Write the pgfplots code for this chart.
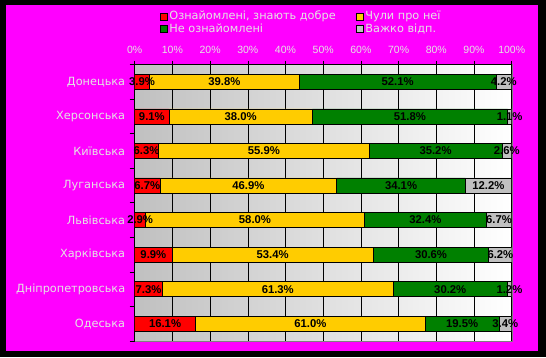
\documentclass[border=0pt]{standalone}
\usepackage{pgfplots}
\pgfplotsset{compat=1.18}
\usepackage{fontspec}
\setmainfont{Liberation Sans}
\newfontfamily\djv{DejaVu Sans}
\definecolor{mag}{RGB}{255,0,255}
\definecolor{cred}{RGB}{255,0,0}
\definecolor{cyel}{RGB}{255,204,0}
\definecolor{cgrn}{RGB}{0,128,0}
\definecolor{cgry}{RGB}{192,192,192}
\definecolor{txt}{RGB}{228,228,228}
\pgfplotstableread{
x y lab
1.95 0 3.9\%
23.8 0 39.8\%
69.75 0 52.1\%
97.9 0 4.2\%
4.55 1 9.1\%
28.1 1 38.0\%
73.0 1 51.8\%
99.45 1 1.1\%
3.15 2 6.3\%
34.25 2 55.9\%
79.8 2 35.2\%
98.7 2 2.6\%
3.35 3 6.7\%
30.15 3 46.9\%
70.65 3 34.1\%
93.8 3 12.2\%
1.45 4 2.9\%
31.9 4 58.0\%
77.1 4 32.4\%
96.65 4 6.7\%
4.95 5 9.9\%
36.6 5 53.4\%
78.6 5 30.6\%
97.0 5 6.2\%
3.65 6 7.3\%
37.95 6 61.3\%
83.7 6 30.2\%
99.4 6 1.2\%
8.05 7 16.1\%
46.6 7 61.0\%
86.85 7 19.5\%
98.3 7 3.4\%
}\labtable
\begin{document}
\begin{tikzpicture}[x=1pt,y=1pt]
\fill[black] (0,0) rectangle (546,357);
\fill[mag] (6,6) rectangle (538,352);
\begin{axis}[
  at={(134.7pt,16pt)}, anchor=south west,
  width=377pt, height=276.5pt, scale only axis,
  xbar stacked, bar width=15pt,
  xmin=0, xmax=100, ymin=-0.5, ymax=7.5, y dir=reverse,
  axis background/.style={left color=cgry, right color=white, draw=gray},
  axis x line*=top, axis y line*=left,
  axis line style={black, line width=0.6pt},
  tick align=outside,
  xtick={0,10,...,100},
  xticklabels={0\%,10\%,20\%,30\%,40\%,50\%,60\%,70\%,80\%,90\%,100\%},
  xticklabel style={font=\fontsize{10.5}{12}\selectfont, text=txt, yshift=3pt},
  major tick length=4pt,
  xmajorgrids, major x grid style={black, line width=0.6pt},
  major x tick style={black, line width=0.6pt},
  ytick={0,...,7},
  yticklabels={Донецька,Херсонська,Київська,Луганська,Львівська,Харківська,Дніпропетровська,Одеська},
  yticklabel style={font=\djv\fontsize{11.3}{13}\selectfont, text=txt, xshift=-2pt},
  major y tick style={draw=none},
  minor ytick={-0.5,0.5,...,7.5},
  minor tick length=5pt,
  minor y tick style={black, line width=0.6pt},
  legend columns=2,
  legend style={at={(0.058,1.208)}, anchor=north west, draw=none, fill=none,
    font=\djv\fontsize{11.3}{12}\selectfont, text=txt,
    /tikz/every even column/.append style={column sep=18pt}, row sep=-2pt},
  legend image code/.code={\draw[#1, draw=black, line width=0.6pt] (0pt,-3.5pt) rectangle (7pt,3.5pt);},
  legend cell align=left,
]
\addplot[fill=cred, draw=black, line width=0.6pt] coordinates {(3.9,0)(9.1,1)(6.3,2)(6.7,3)(2.9,4)(9.9,5)(7.3,6)(16.1,7)};
\addplot[fill=cyel, draw=black, line width=0.6pt] coordinates {(39.8,0)(38.0,1)(55.9,2)(46.9,3)(58.0,4)(53.4,5)(61.3,6)(61.0,7)};
\addplot[fill=cgrn, draw=black, line width=0.6pt] coordinates {(52.1,0)(51.8,1)(35.2,2)(34.1,3)(32.4,4)(30.6,5)(30.2,6)(19.5,7)};
\addplot[fill=cgry, draw=black, line width=0.6pt] coordinates {(4.2,0)(1.1,1)(2.6,2)(12.2,3)(6.7,4)(6.2,5)(1.2,6)(3.4,7)};
\legend{{Ознайомлені, знають добре},{Чули про неї},{Не ознайомлені},{Важко відп.}}
\end{axis}
\begin{axis}[
  at={(134.7pt,16pt)}, anchor=south west,
  width=377pt, height=276.5pt, scale only axis,
  xmin=0, xmax=100, ymin=-0.5, ymax=7.5, y dir=reverse,
  hide axis, clip=false,
]
\addplot[only marks, mark=none,
  nodes near coords, point meta=explicit symbolic,
  every node near coord/.append style={anchor=center, inner sep=0pt, font=\fontsize{11.3}{12}\selectfont\bfseries, text=black}]
  table[x=x, y=y, meta=lab] {\labtable};
\end{axis}
\end{tikzpicture}
\end{document}
